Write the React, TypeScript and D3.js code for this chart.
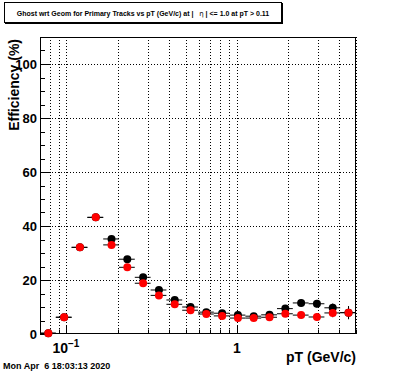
import { useEffect, useRef } from "react"
import * as d3 from "d3"

// bin edges of the pT histogram (GeV/c), 20 log bins
const binEdges = [
  0.07, 0.0867, 0.1073, 0.1328, 0.1644, 0.2035, 0.2519, 0.3119, 0.3861, 0.4779, 0.5916, 0.7324, 0.9066, 1.1223,
  1.3893, 1.7199, 2.1291, 2.6357, 3.2627, 4.039, 5.0,
]

// efficiency (%) per bin
const blackValues = [0.3, 6.2, 32.1, 43.2, 35.2, 27.7, 21.0, 16.3, 12.6, 10.0, 8.1, 7.7, 7.0, 6.6, 7.1, 9.4, 11.5, 11.2, 9.7, 7.9]
const redValues = [0.3, 6.2, 32.1, 43.2, 33.0, 24.7, 18.8, 14.3, 11.0, 8.8, 7.4, 6.7, 5.9, 5.9, 6.2, 7.5, 7.0, 6.3, 7.8, 7.9]
const blackErrors = [0.2, 0.6, 0.6, 0.6, 0.6, 0.6, 0.6, 0.6, 0.6, 0.6, 0.6, 0.7, 0.7, 0.8, 0.9, 1.0, 1.2, 1.4, 1.6, 2.4]
const redErrors = [0.2, 0.6, 0.6, 0.6, 0.6, 0.6, 0.6, 0.6, 0.6, 0.6, 0.6, 0.7, 0.7, 0.8, 0.9, 1.0, 1.2, 1.4, 1.6, 2.4]

const yMajorTicks = [0, 20, 40, 60, 80, 100]
const yMinorTicks = [5, 10, 15, 25, 30, 35, 45, 50, 55, 65, 70, 75, 85, 90, 95, 105]
const xMajorTicks = [0.1, 1]
const xMinorTicks = [0.08, 0.09, 0.2, 0.3, 0.4, 0.5, 0.6, 0.7, 0.8, 0.9, 2, 3, 4, 5]

const FONT = "'Liberation Sans', Arial, Helvetica, sans-serif"

export default function App() {
  const svgRef = useRef<SVGSVGElement | null>(null)

  useEffect(() => {
    if (!svgRef.current) return
    const svg = d3.select(svgRef.current)
    svg.selectAll("*").remove()

    const W = 396
    const H = 372
    const frame = { left: 40, right: 356, top: 37, bottom: 334 }

    svg.append("rect").attr("width", W).attr("height", H).attr("fill", "white")

    const x = d3.scaleLog().domain([0.07, 5]).range([frame.left, frame.right])
    const y = d3.scaleLinear().domain([0, 110]).range([frame.bottom, frame.top])

    // grid
    const grid = svg.append("g").attr("stroke", "black").attr("stroke-width", 1).attr("stroke-dasharray", "1,2")
    ;[...xMinorTicks, ...xMajorTicks].forEach((t) => {
      const px = Math.round(x(t)) + 0.5
      grid.append("line").attr("x1", px).attr("x2", px).attr("y1", frame.top).attr("y2", frame.bottom)
    })
    yMajorTicks.slice(1).forEach((t) => {
      const py = Math.round(y(t)) + 0.5
      grid.append("line").attr("x1", frame.left).attr("x2", frame.right).attr("y1", py).attr("y2", py)
    })

    // ticks
    const ticks = svg.append("g").attr("stroke", "black").attr("stroke-width", 1)
    yMajorTicks.forEach((t) => {
      const py = Math.round(y(t)) + 0.5
      ticks.append("line").attr("x1", frame.left).attr("x2", frame.left + 9.5).attr("y1", py).attr("y2", py)
    })
    yMinorTicks.forEach((t) => {
      const py = Math.round(y(t)) + 0.5
      ticks.append("line").attr("x1", frame.left).attr("x2", frame.left + 5).attr("y1", py).attr("y2", py)
    })
    xMajorTicks.forEach((t) => {
      const px = Math.round(x(t)) + 0.5
      ticks.append("line").attr("x1", px).attr("x2", px).attr("y1", frame.bottom).attr("y2", frame.bottom - 9)
    })
    xMinorTicks.forEach((t) => {
      const px = Math.round(x(t)) + 0.5
      ticks.append("line").attr("x1", px).attr("x2", px).attr("y1", frame.bottom).attr("y2", frame.bottom - 4.5)
    })

    // frame
    svg
      .append("rect")
      .attr("x", frame.left + 0.5)
      .attr("y", frame.top + 0.5)
      .attr("width", frame.right - frame.left - 1)
      .attr("height", frame.bottom - frame.top - 1)
      .attr("fill", "none")
      .attr("stroke", "black")

    // y labels
    yMajorTicks.forEach((t) => {
      svg
        .append("text")
        .attr("x", frame.left - 3)
        .attr("y", y(t) + 5)
        .attr("text-anchor", "end")
        .attr("font-family", FONT)
        .attr("font-weight", "bold")
        .attr("font-size", 13)
        .text(t)
    })

    // x labels
    const lbl01 = svg
      .append("text")
      .attr("x", x(0.1) - 14)
      .attr("y", 353)
      .attr("font-family", FONT)
      .attr("font-weight", "bold")
      .attr("font-size", 14)
    lbl01.append("tspan").text("10")
    lbl01.append("tspan").attr("dy", -6).attr("font-size", 10).text("\u22121")
    svg
      .append("text")
      .attr("x", x(1))
      .attr("y", 353)
      .attr("text-anchor", "middle")
      .attr("font-family", FONT)
      .attr("font-weight", "bold")
      .attr("font-size", 14)
      .text("1")

    // axis titles
    svg
      .append("text")
      .attr("x", frame.right)
      .attr("y", 362)
      .attr("text-anchor", "end")
      .attr("font-family", FONT)
      .attr("font-weight", "bold")
      .attr("font-size", 14)
      .text("pT (GeV/c)")
    svg
      .append("text")
      .attr("transform", `translate(19, ${frame.top + 2}) rotate(-90)`)
      .attr("text-anchor", "end")
      .attr("font-family", FONT)
      .attr("font-weight", "bold")
      .attr("font-size", 14)
      .text("Efficiency (%)")

    // histograms
    const drawSeries = (values: number[], errors: number[], color: string) => {
      const g = svg.append("g")
      values.forEach((v, i) => {
        const lo = binEdges[i]
        const hi = binEdges[i + 1]
        const cx = x((lo + hi) / 2)
        const cy = y(v)
        g.append("line")
          .attr("x1", x(lo))
          .attr("x2", x(hi))
          .attr("y1", cy)
          .attr("y2", cy)
          .attr("stroke", "black")
        g.append("line")
          .attr("x1", cx)
          .attr("x2", cx)
          .attr("y1", y(Math.max(0, v - errors[i])))
          .attr("y2", y(v + errors[i]))
          .attr("stroke", "black")
        g.append("circle").attr("cx", cx).attr("cy", cy).attr("r", 4).attr("fill", color)
      })
    }
    drawSeries(blackValues, blackErrors, "black")
    drawSeries(redValues, redErrors, "#ff0000")

    // title box
    svg.append("rect").attr("x", 5).attr("y", 3).attr("width", 278).attr("height", 21).attr("fill", "black")
    svg
      .append("rect")
      .attr("x", 4.5)
      .attr("y", 2.5)
      .attr("width", 277)
      .attr("height", 20)
      .attr("fill", "white")
      .attr("stroke", "black")
    const title = svg
      .append("text")
      .attr("x", 143)
      .attr("y", 15.5)
      .attr("text-anchor", "middle")
      .attr("font-family", FONT)
      .attr("font-weight", "bold")
      .attr("font-size", 7)
      .attr("xml:space", "preserve")
      .style("white-space", "pre")
    title.append("tspan").text("Ghost wrt Geom for Primary Tracks vs pT (GeV/c) at |   ")
    title.append("tspan").attr("font-weight", "normal").attr("font-family", "'DejaVu Sans', sans-serif").text("\u03b7")
    title.append("tspan").text(" | <= 1.0 at pT > 0.11")

    // date stamp
    svg
      .append("text")
      .attr("x", 3)
      .attr("y", 368.5)
      .attr("font-family", FONT)
      .attr("font-weight", "bold")
      .attr("font-size", 9)
      .style("white-space", "pre")
      .text("Mon Apr  6 18:03:13 2020")
  }, [])

  return <svg ref={svgRef} width={396} height={372} style={{ position: "absolute", left: 0, top: 0 }} />
}
